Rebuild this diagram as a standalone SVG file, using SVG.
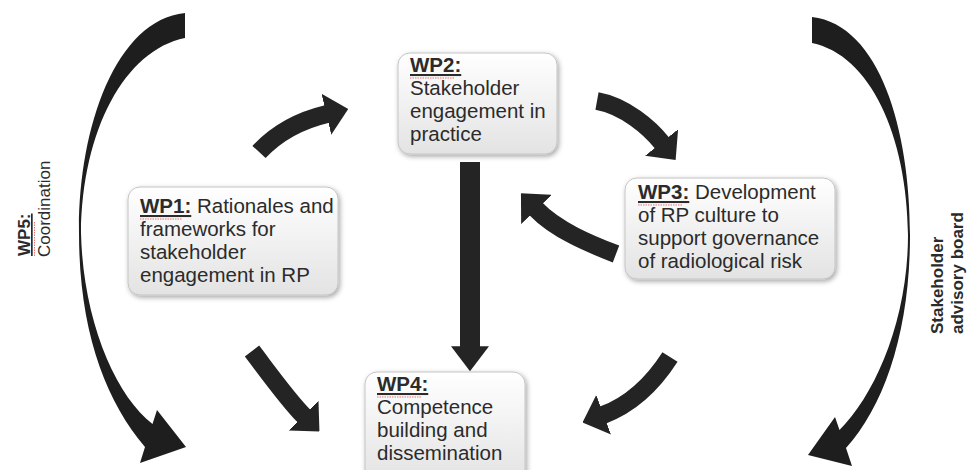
<svg xmlns="http://www.w3.org/2000/svg" width="969" height="470" viewBox="0 0 969 470">
<style>
  .box { fill: url(#boxg); stroke: #c4c4c4; stroke-width: 1; filter: url(#shadow); }
  .t { font-family: "Liberation Sans", Arial, sans-serif; font-size: 20.5px; fill: #2b2b2b; }
  .side { font-family: "Liberation Sans", Arial, sans-serif; font-size: 17px; fill: #2b2b2b; }
  .b { font-weight: bold; text-decoration: underline; }
  .bb { font-weight: bold; }
  .arr { fill: none; stroke: #242424; stroke-width: 18; stroke-linecap: butt; marker-end: url(#head); }
  .arrv { fill: none; stroke: #242424; stroke-width: 20; stroke-linecap: butt; marker-end: url(#headv); }
  .big { fill: #1e1e1e; }
  .squig { fill: none; stroke: #e05050; stroke-width: 1; stroke-dasharray: 1.5 1; opacity: 0.8; }
</style>
<defs>
  <linearGradient id="boxg" x1="0" y1="0" x2="0" y2="1">
    <stop offset="0" stop-color="#ffffff"/>
    <stop offset="1" stop-color="#e3e3e3"/>
  </linearGradient>
  <filter id="shadow" x="-10%" y="-10%" width="125%" height="130%">
    <feDropShadow dx="1.5" dy="2" stdDeviation="2.5" flood-color="#000" flood-opacity="0.35"/>
  </filter>
  <marker id="head" viewBox="0 0 10 10" preserveAspectRatio="none" refX="0.3" refY="5" markerUnits="strokeWidth" markerWidth="1.25" markerHeight="2.35" orient="auto">
    <path d="M0,0 L10,5 L0,10 z" fill="#242424"/>
  </marker>
  <marker id="headv" viewBox="0 0 10 10" preserveAspectRatio="none" refX="0.3" refY="5" markerUnits="strokeWidth" markerWidth="1.25" markerHeight="1.9" orient="auto">
    <path d="M0,0 L10,5 L0,10 z" fill="#242424"/>
  </marker>
</defs>

<g id="connectors">
  <path class="big" d="M185,13 C115,20 78,130 79,233 C79,330 105,400 145,447 L140,463 L186,447 L157,410 L152.5,424 C115,395 83,320 81,233 C82,130 125,50 185,38 Z"/>
  <path class="big" d="M812,17 C880,25 910,130 910,235 C910,330 885,405 846,448 L852,466 L808,455 L835,417 L839.5,430 C875,395 908,320 908,235 C907,135 870,55 812,43 Z"/>
  <path class="arr" d="M259,152 Q285,124 327,114"/>
  <path class="arr" d="M597,101 C625,106 650,128 662,143"/>
  <path class="arr" d="M616,254 C590,244 556,230 536,209"/>
  <path class="arr" d="M252,351 C268,372 288,400 304,416"/>
  <path class="arr" d="M670,357 C652,385 630,405 603,415"/>
  <path class="arrv" d="M470,162 L470,347"/>
</g>

<g id="wp1">
  <rect class="box" x="128" y="187" width="210" height="108" rx="12"/>
  <text class="t" x="140" y="213"><tspan class="b">WP1:</tspan> Rationales and</text>
  <text class="t" x="140" y="236">frameworks for</text>
  <text class="t" x="140" y="259">stakeholder</text>
  <text class="t" x="140" y="282">engagement in RP</text>
  <path class="squig" d="M140,219 H182"/>
</g>

<g id="wp2">
  <rect class="box" x="398" y="53" width="159" height="101" rx="12"/>
  <text class="t" x="410" y="72"><tspan class="b">WP2:</tspan></text>
  <text class="t" x="410" y="95">Stakeholder</text>
  <text class="t" x="410" y="118">engagement in</text>
  <text class="t" x="410" y="141">practice</text>
  <path class="squig" d="M410,78 H454"/>
</g>

<g id="wp3">
  <rect class="box" x="625" y="178" width="210" height="101" rx="12"/>
  <text class="t" x="638" y="199"><tspan class="b">WP3:</tspan> Development</text>
  <text class="t" x="638" y="222">of RP culture to</text>
  <text class="t" x="638" y="245">support governance</text>
  <text class="t" x="638" y="268">of radiological risk</text>
  <path class="squig" d="M638,205 H682"/>
</g>

<g id="wp4">
  <rect class="box" x="365" y="372" width="160" height="110" rx="12"/>
  <text class="t" x="377" y="391"><tspan class="b">WP4:</tspan></text>
  <text class="t" x="377" y="414">Competence</text>
  <text class="t" x="377" y="437">building and</text>
  <text class="t" x="377" y="460">dissemination</text>
  <path class="squig" d="M377,397 H421"/>
</g>

<g id="wp5">
  <text class="side" transform="translate(30,256) rotate(-90)"><tspan class="b">WP5:</tspan></text>
  <text class="side" transform="translate(49.5,257) rotate(-90)">Coordination</text>
  <path class="squig" d="M34.5,256 V222"/>
</g>

<g id="advisory">
  <text class="side bb" transform="translate(943.3,334) rotate(-90)">Stakeholder</text>
  <text class="side bb" transform="translate(962.6,334) rotate(-90)">advisory board</text>
</g>
</svg>
